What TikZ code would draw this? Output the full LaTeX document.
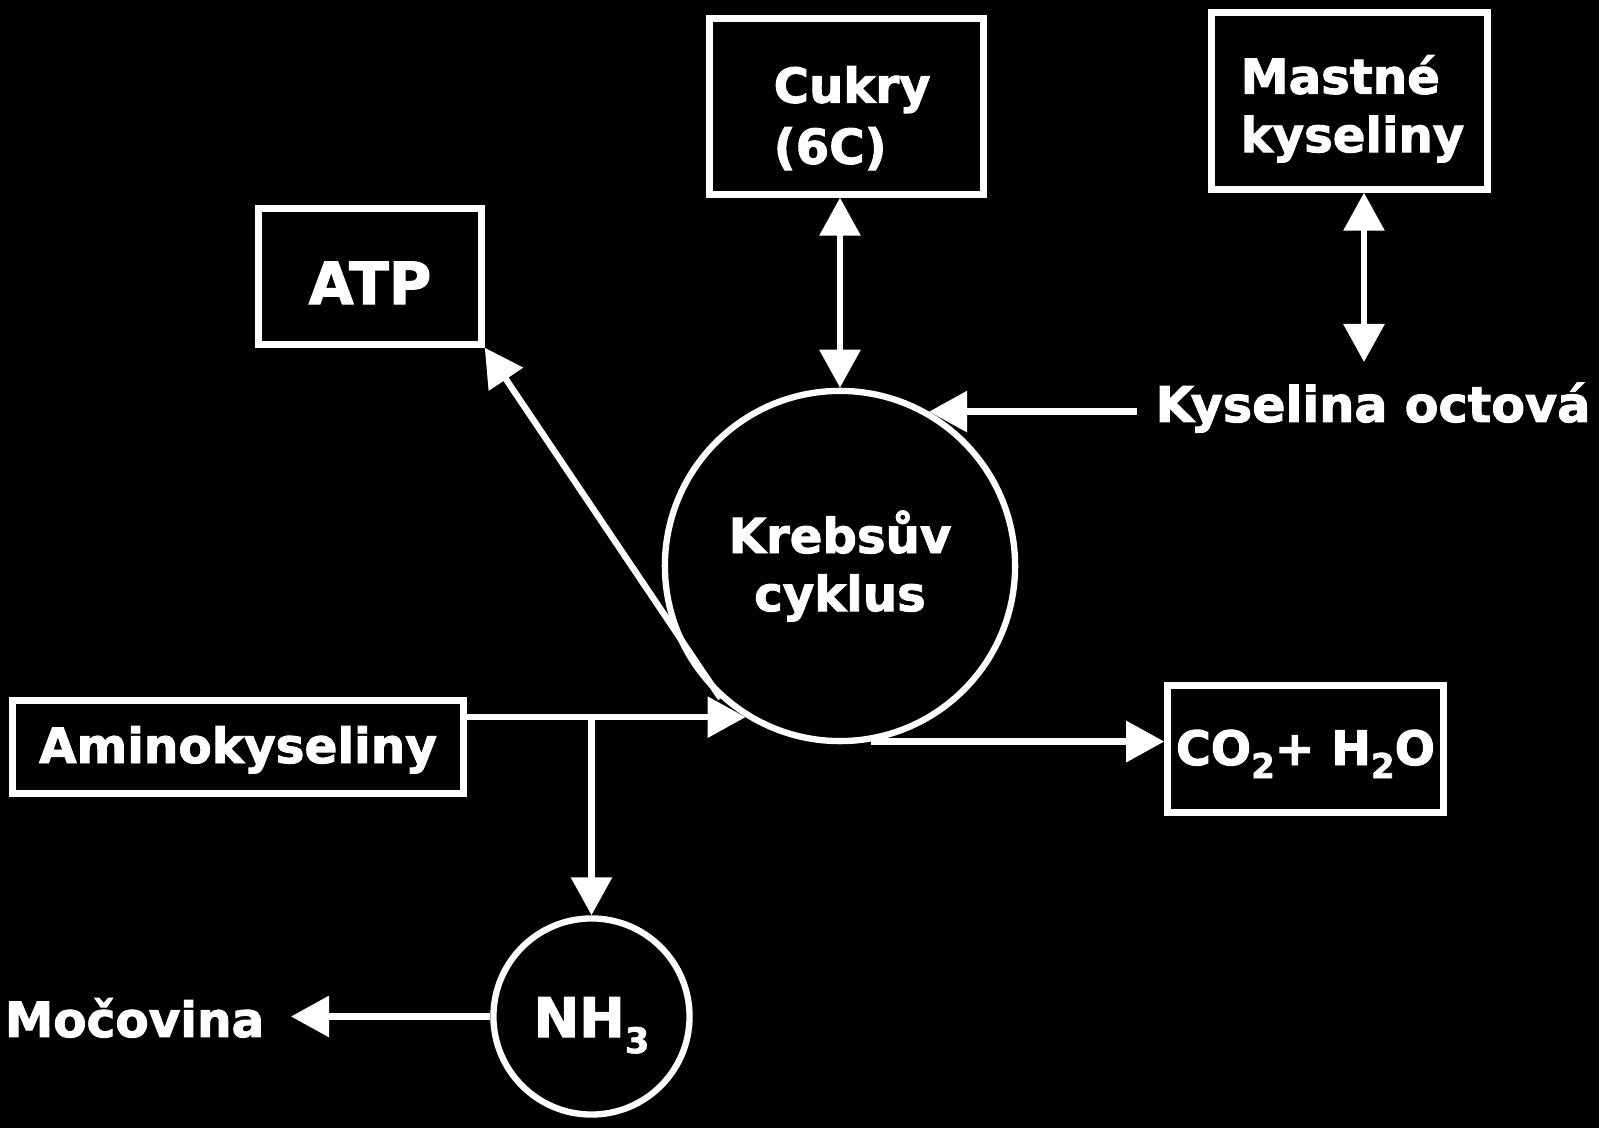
\documentclass[tikz,border=0pt]{standalone}
\usepackage{fontspec}
\setmainfont{DejaVu Sans}[BoldFeatures={FakeBold=2}]
\usetikzlibrary{arrows.meta}
\newcommand{\lowidx}[3]{\raisebox{-#2}{\fontsize{#1}{#1}\selectfont #3}}
\begin{document}
\begin{tikzpicture}[x=0.01cm,y=-0.01cm,
  every node/.style={text=white},
  box/.style={draw=white, line width=1.8pt, rectangle, inner sep=0pt},
  ring/.style={draw=white, line width=1.8pt, circle, inner sep=0pt},
  txt/.style={font=\bfseries\fontsize{13.8}{16.5}\selectfont},
  conn/.style={draw=white, line width=1.8pt},
  arr/.style={-{Triangle[length=0.38cm,width=0.40cm]}},
  darr/.style={{Triangle[length=0.38cm,width=0.40cm]}-{Triangle[length=0.38cm,width=0.40cm]}}
]
\fill[black] (0,0) rectangle (1599,1128);
\useasboundingbox (0,0) rectangle (1599,1128);

% boxes
\node[box, minimum width=2.74cm, minimum height=1.76cm] (cuk) at (846.5,106.5) {};
\node[anchor=north west, align=left, inner sep=0pt, font=\bfseries\fontsize{13.7}{17.36}\selectfont] (cukt) at (773,57) {\rule{0pt}{0.45cm}Cukry\\(6C)};

\node[box, minimum width=2.76cm, minimum height=1.77cm] (mas) at (1349.5,101) {};
\node[anchor=north west, align=left, inner sep=0pt, font=\bfseries\fontsize{13.7}{16.6}\selectfont] (mast) at (1240,48) {\rule{0pt}{0.45cm}Mastné\\kyseliny};

\node[box, minimum width=2.23cm, minimum height=1.36cm, font=\bfseries\fontsize{16.5}{18}\selectfont, text height=0.55cm, text depth=0pt] (atp) at (370,276.5) {ATP};

\node[box, txt, minimum width=4.51cm, minimum height=0.93cm, text height=0.32cm, text depth=0pt] (ami) at (238,747) {Aminokyseliny};

\node[box, font=\bfseries\fontsize{13.5}{16}\selectfont, minimum width=2.76cm, minimum height=1.27cm, text height=0.32cm, text depth=0pt] (co2) at (1305.5,749) {CO\lowidx{9.7pt}{0.13cm}{2}+ H\lowidx{9.7pt}{0.13cm}{2}O};

% circles
\node[ring, minimum size=3.5cm, align=center, font=\bfseries\fontsize{13.7}{16.5}\selectfont] (kreb) at (840,566) {Krebsův\\cyklus};
\node[ring, minimum size=1.96cm, font=\bfseries\fontsize{15.5}{18}\selectfont, text height=0.41cm, text depth=0pt] (nh3) at (591.5,1016.5) {NH\lowidx{10pt}{0.16cm}{3}};

% free texts
\node[txt, font=\bfseries\fontsize{14}{16.5}\selectfont, anchor=base west, inner xsep=0.18cm, inner ysep=0pt] (kys) at (1137,422) {Kyselina octová};
\node[txt, anchor=base east, inner xsep=0.26cm, inner ysep=0pt] (moc) at (291,1037) {Močovina};

% connectors
\coordinate (masend) at (1364,362);
\draw[conn, darr] (cuk.south -| kreb.north) -- (kreb.north);
\draw[conn, darr] (mas.south -| masend) -- (masend);
\draw[conn, arr] (kys.west |- kreb.60) -- (kreb.60);
\draw[conn, arr] (kreb.228) -- (atp.south east);
\draw[conn, arr] (ami.east |- kreb.238.6) -- (kreb.238.6);
\coordinate (br) at (nh3.north |- kreb.238.6);
\draw[conn, arr] (br) -- (nh3.north);
\draw[conn, arr] (kreb.-80) -- (co2.west |- kreb.-80);
\draw[conn, arr] (nh3.west) -- (moc.east |- nh3.west);
\end{tikzpicture}
\end{document}
